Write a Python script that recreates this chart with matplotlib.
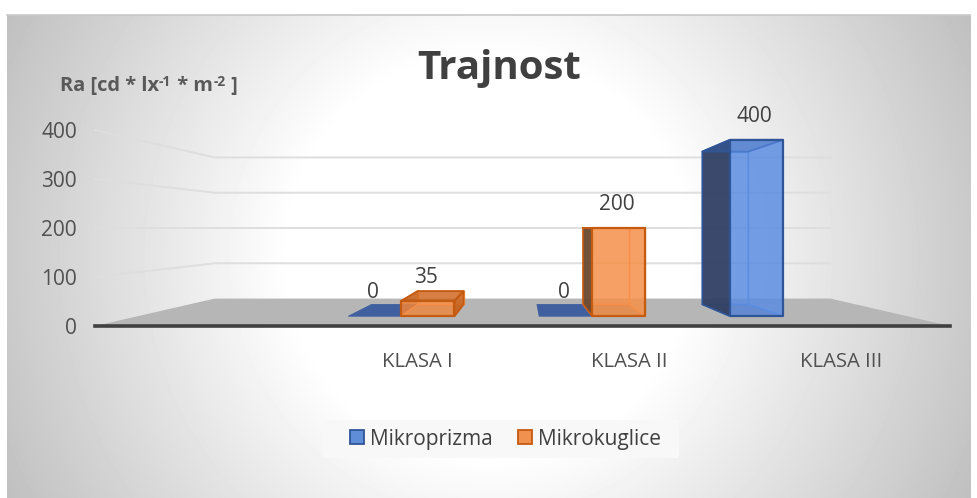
import numpy as np
import matplotlib
matplotlib.use('Agg')
import matplotlib.pyplot as plt
from matplotlib.colors import to_rgba
from matplotlib.patches import Patch, Polygon, Rectangle

plt.rcParams['font.family'] = ['Open Sans', 'DejaVu Sans']

# data
categories = ['', 'KLASA I', 'KLASA II', 'KLASA III']
cat_pos = [1, 2, 3]
mikroprizma = [0, 0, 400]
mikrokuglice = [35, 200, None]
yticks = [0, 100, 200, 300, 400]

W, H = 978, 498
fig = plt.figure(figsize=(W / 100, H / 100), dpi=100)

# background of the chart area (radial gradient)
bg = fig.add_axes([0, 0, 1, 1], zorder=0)
bg.axis('off')
xx, yy = np.meshgrid(np.arange(7, 971), np.arange(15, 498))
r = np.hypot(xx - 488, yy - 256)
shade = 1 - 0.25 * np.clip((r - 200) / 340, 0, 1)
bg.imshow(shade, extent=(7, 971, 498, 15), cmap='gray', vmin=0, vmax=1, aspect='auto')
bg.plot([7, 970], [14.5, 14.5], color='#c8c8c8', lw=1.2)
bg.set_xlim(0, W)
bg.set_ylim(H, 0)
bg.add_patch(Rectangle((323, 420), 356, 38, fc='#f8f8f8', ec='none'))

# main axes, front plane of the 3d box
ax = fig.add_axes([95 / W, 1 - 326 / H, 855 / W, 196 / H], zorder=1)
ax.patch.set_alpha(0)
x0, x1 = -0.519, 3.514
ax.set_xlim(x0, x1)
ax.set_ylim(0, 400)
for sp in ['top', 'left', 'right']:
    ax.spines[sp].set_visible(False)
ax.spines['bottom'].set_color('#404040')
ax.spines['bottom'].set_linewidth(2.6)
ax.spines['bottom'].set_zorder(6)
ax.set_yticks(yticks)
ax.set_xticks(cat_pos)
ax.set_xticklabels(categories[1:], fontsize=14.6, color='#505050')
ax.tick_params(axis='x', length=0, pad=18.5)
ax.tick_params(axis='y', length=0, pad=13, labelsize=15, labelcolor='#505050')

# perspective: everything runs to one vanishing point
xv = (x0 + x1) / 2
yv = 200
WALL, BACK, FRONT = 0.72, 0.78, 0.90


def proj(x, v, s):
    return xv + (x - xv) * s, yv + (v - yv) * s


# floor and grid lines
ax.add_patch(Polygon([proj(x0, 0, 1), proj(x1, 0, 1), proj(x1, 0, WALL), proj(x0, 0, WALL)],
                     fc='#b6b6b6', ec='none', clip_on=False, zorder=1))
for v in yticks[1:]:
    pts = [proj(x0, v, 1), proj(x0, v, WALL), proj(x1, v, WALL)]
    ax.plot([p[0] for p in pts], [p[1] for p in pts], color='#dedede', lw=1.4,
            clip_on=False, zorder=1)


def box(left, right, v, main, edge, dark):
    def face(corners, fc, alpha, ec, lw, z=3):
        ax.add_patch(Polygon([proj(*c) for c in corners], closed=True, fc=to_rgba(fc, alpha),
                             ec=ec, lw=lw, clip_on=False, zorder=z, joinstyle='round'))
    if v == 0:
        face([(left, 0, FRONT), (right, 0, FRONT), (right, 0, BACK), (left, 0, BACK)],
             '#3f5f9f', 1, '#3f5f9f', 0.6)
        return
    thin = to_rgba(main, 0.9)
    face([(left, 0, BACK), (right, 0, BACK), (right, v, BACK), (left, v, BACK)], main, 0.5, thin, 1)
    face([(left, 0, BACK), (right, 0, BACK), (right, 0, FRONT), (left, 0, FRONT)], edge, 0.45, thin, 1)
    # a side turned outwards is in shade, one seen through the front stays light
    if right < xv:
        face([(right, 0, BACK), (right, v, BACK), (right, v, FRONT), (right, 0, FRONT)], edge, 0.75, edge, 1.3)
    else:
        face([(right, 0, BACK), (right, v, BACK), (right, v, FRONT), (right, 0, FRONT)], main, 0.5, thin, 1)
    if left > xv:
        face([(left, 0, BACK), (left, v, BACK), (left, v, FRONT), (left, 0, FRONT)], dark, 0.9, edge, 1.2)
    else:
        face([(left, 0, BACK), (left, v, BACK), (left, v, FRONT), (left, 0, FRONT)], edge, 0.6, thin, 1)
    face([(left, v, BACK), (right, v, BACK), (right, v, FRONT), (left, v, FRONT)], edge, 0.65, edge, 1.3)
    face([(left, 0, FRONT), (right, 0, FRONT), (right, v, FRONT), (left, v, FRONT)], main, 0.68, edge, 1.6, z=4)


bar_w = 0.278
series = [
    (mikroprizma, -0.415, '#5a8ce2', '#2f5597', '#2f3d5e'),
    (mikrokuglice, -0.415 + bar_w, '#f78f48', '#c55a11', '#63452e'),
]
for vals, off, main, edge, dark in series:
    for c, v in zip(cat_pos, vals):
        if v is None:
            continue
        box(c + off, c + off + bar_w, v, main, edge, dark)
        lx, ly = proj(c + off + bar_w / 2, v, FRONT)
        ax.annotate(str(v), (lx, ly), xytext=(-1.5, 17), textcoords='offset points', ha='center',
                    va='center', fontsize=15, color='#404040', annotation_clip=False, zorder=5)

# titles
fig.text(499 / W, 1 - 69 / H, 'Trajnost', ha='center', va='center', fontsize=29,
         fontweight='bold', color='#404040', zorder=3)

# axis title, written piece by piece so the exponents keep a short hyphen
renderer = fig.canvas.get_renderer()
pen = 60
for piece, size, rise in [('Ra [cd * lx', 14.4, 0), ('-1', 10, 5), (' * m', 14.4, 0),
                          ('-2', 10, 5), (' ]', 14.4, 0)]:
    t = fig.text(pen / W, (H - 91 + rise) / H, piece, ha='left', va='baseline', fontsize=size,
                 fontweight='bold', color='#595959', zorder=3)
    pen += t.get_window_extent(renderer).width + (1 if size < 11 else 0)

# legend
handles = [Patch(fc='#5f8dd8', ec='#2f5597', lw=1.3, label='Mikroprizma'),
           Patch(fc='#f0914f', ec='#c55a11', lw=1.3, label='Mikrokuglice')]
leg = ax.legend(handles=handles, ncol=2, loc='center', bbox_to_anchor=(505.5 / W, 1 - 439 / H),
                bbox_transform=fig.transFigure, fontsize=15, frameon=False, labelcolor='#404040',
                handlelength=0.66, handleheight=0.66, handletextpad=0.3, columnspacing=1.2,
                borderpad=0, borderaxespad=0)
leg.set_zorder(6)

fig.savefig('out.png', dpi=100)
